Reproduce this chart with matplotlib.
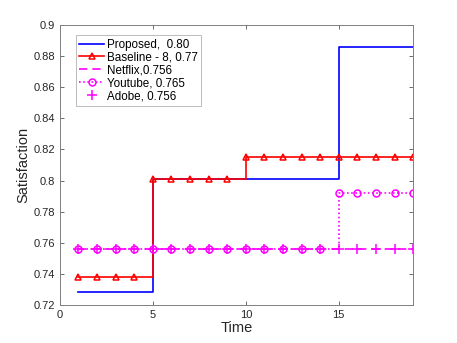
import matplotlib
matplotlib.use("Agg")
import matplotlib.pyplot as plt
import numpy as np

plt.rcParams['font.family'] = ['Liberation Sans', 'DejaVu Sans']

time = list(range(1, 20))
proposed = [0.7285]*4 + [0.801]*10 + [0.886]*5
baseline = [0.738]*4 + [0.801]*5 + [0.815]*10
netflix = [0.756]*19
youtube = [0.756]*14 + [0.792]*5
adobe = [0.756]*19

labels = ['Proposed,  0.80', 'Baseline - 8, 0.77', 'Netflix,0.756', 'Youtube, 0.765', 'Adobe, 0.756']

fig = plt.figure(figsize=(4.57, 3.43), dpi=100)
ax = fig.add_axes([0.131, 0.111, 0.773, 0.816])

lw = 1.2
ax.plot(time, proposed, color='blue', lw=lw, drawstyle='steps-post', label=labels[0])
ax.plot(time, baseline, color='red', lw=lw, drawstyle='steps-post', marker='^',
        ms=5, mfc='none', mew=1.1, label=labels[1])
ax.plot(time, netflix, color='magenta', lw=lw, ls=(0, (5, 3)), drawstyle='steps-post', label=labels[2])
ax.plot(time, youtube, color='magenta', lw=lw, ls=(0, (1, 1.5)), drawstyle='steps-post', marker='o',
        ms=5, mfc='none', mew=1.1, label=labels[3])
ax.plot(time, adobe, color='magenta', lw=0, marker='+', ms=7, mew=1.1, label=labels[4])

ax.set_xlim(0, 19)
ax.set_ylim(0.72, 0.9)
ax.set_xticks([0, 5, 10, 15])
yt = np.round(np.arange(0.72, 0.9001, 0.02), 2)
ax.set_yticks(yt)
ax.set_yticklabels([('%g' % v) for v in yt])
ax.tick_params(direction='in', top=True, right=True, labelsize=8, length=3,
               color='#555555', labelcolor='#262626', width=0.6)
for s in ax.spines.values():
    s.set_color('#7f7f7f')
    s.set_linewidth(0.7)
ax.set_xlabel('Time', fontsize=10.5, color='#262626', labelpad=1)
ax.set_ylabel('Satisfaction', fontsize=10.5, color='#262626', labelpad=2)

leg = ax.legend(loc='upper left', bbox_to_anchor=(0.045, 0.964), fontsize=8.4,
                frameon=True, fancybox=False, edgecolor='#aaaaaa', handlelength=2.1,
                handletextpad=0.25, borderpad=0.3, labelspacing=0.08, borderaxespad=0)
leg.get_frame().set_linewidth(0.7)

fig.savefig('out.png', dpi=100)
